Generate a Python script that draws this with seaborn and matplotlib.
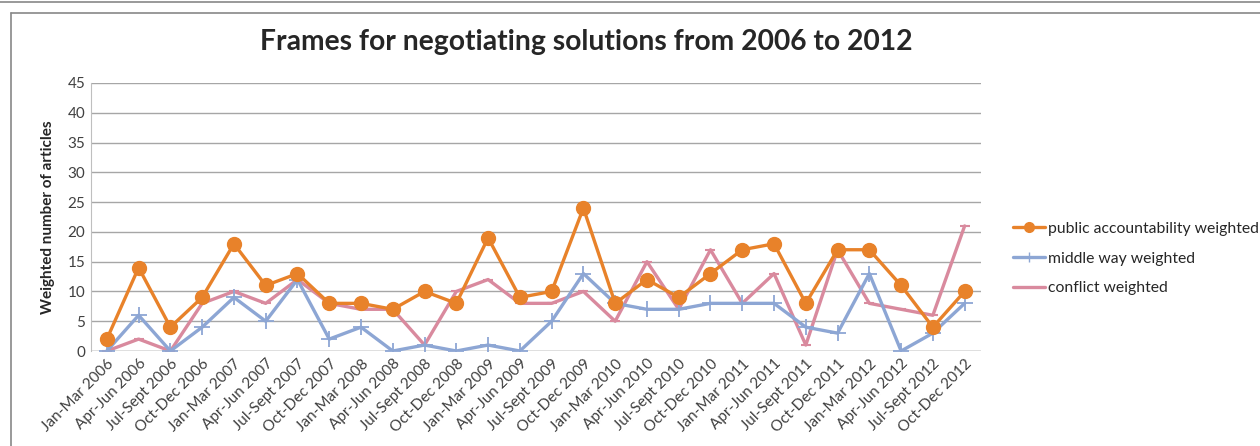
import numpy as np
import pandas as pd
import matplotlib
matplotlib.use("Agg")
import matplotlib.pyplot as plt
from matplotlib.lines import Line2D
import seaborn as sns

# data
periods = [
    "Jan-Mar 2006", "Apr-Jun 2006", "Jul-Sept 2006", "Oct-Dec 2006",
    "Jan-Mar 2007", "Apr-Jun 2007", "Jul-Sept 2007", "Oct-Dec 2007",
    "Jan-Mar 2008", "Apr-Jun 2008", "Jul-Sept 2008", "Oct-Dec 2008",
    "Jan-Mar 2009", "Apr-Jun 2009", "Jul-Sept 2009", "Oct-Dec 2009",
    "Jan-Mar 2010", "Apr-Jun 2010", "Jul-Sept 2010", "Oct-Dec 2010",
    "Jan-Mar 2011", "Apr-Jun 2011", "Jul-Sept 2011", "Oct-Dec 2011",
    "Jan-Mar 2012", "Apr-Jun 2012", "Jul-Sept 2012", "Oct-Dec 2012",
]
public_accountability = [2, 14, 4, 9, 18, 11, 13, 8, 8, 7, 10, 8, 19, 9,
                         10, 24, 8, 12, 9, 13, 17, 18, 8, 17, 17, 11, 4, 10]
middle_way = [0, 6, 0, 4, 9, 5, 12, 2, 4, 0, 1, 0, 1, 0,
              5, 13, 8, 7, 7, 8, 8, 8, 4, 3, 13, 0, 3, 8]
conflict = [0, 2, 0, 8, 10, 8, 12, 8, 7, 7, 1, 10, 12, 8,
            8, 10, 5, 15, 7, 17, 8, 13, 1, 17, 8, 7, 6, 21]

series_names = ["public accountability weighted", "middle way weighted", "conflict weighted"]
colors = ["#E8822A", "#8DA6D4", "#D98A9E"]
y_ticks = list(range(0, 50, 5))

sns.set_style("white")
plt.rcParams["font.family"] = ["Lato", "DejaVu Sans"]

n = len(periods)
df = pd.DataFrame({
    "pos": list(range(n)) * 3,
    "value": public_accountability + middle_way + conflict,
    "series": [series_names[0]] * n + [series_names[1]] * n + [series_names[2]] * n,
})

fig = plt.figure(figsize=(12.6, 4.46), dpi=100)
ax = fig.add_axes([0.0722, 0.213, 0.706, 0.601])

# draw conflict and middle way first, public accountability on top
for name, col, mk, ms, mew in [
    (series_names[2], colors[2], "_", 7, 1.5),
    (series_names[1], colors[1], "+", 11, 1.3),
    (series_names[0], colors[0], "o", 10, 1),
]:
    sub = df[df["series"] == name]
    sns.lineplot(data=sub, x="pos", y="value", ax=ax, color=col, linewidth=2.4,
                 marker=mk, markersize=ms, markeredgewidth=mew,
                 markeredgecolor=col, sort=False, legend=False)

ax.set_xlim(-0.5, n - 0.5)
ax.set_ylim(0, 45)
ax.set_yticks(y_ticks)
ax.set_yticklabels([str(t) for t in y_ticks], fontsize=11, color="#404040")
ax.set_xticks(range(n))
ax.set_xticklabels(periods, rotation=45, ha="right", rotation_mode="anchor",
                   fontsize=11, color="#404040")
ax.tick_params(axis="both", length=0, pad=4)
ax.yaxis.grid(True, color="#A6A6A6", linewidth=1)
ax.set_axisbelow(True)
for side in ["top", "right", "bottom"]:
    ax.spines[side].set_visible(False)
ax.spines["left"].set_color("#BFBFBF")
ax.axhline(0, color="#A6A6A6", linewidth=1, zorder=1)
ax.set_xlabel("")
ax.set_ylabel("Weighted number of articles", fontsize=11, fontweight="bold", labelpad=9)

fig.text(0.465, 0.905, "Frames for negotiating solutions from 2006 to 2012",
         ha="center", va="center", fontsize=20.3, fontweight="bold")

handles = [
    Line2D([], [], color=colors[0], linewidth=2.4, marker="o", markersize=7),
    Line2D([], [], color=colors[1], linewidth=2.4, marker="+", markersize=7),
    Line2D([], [], color=colors[2], linewidth=2.4),
]
fig.legend(handles, series_names, loc="center left", bbox_to_anchor=(0.793, 0.42),
           frameon=False, fontsize=11.3, handlelength=2.0, handletextpad=0.2,
           labelspacing=1.0, labelcolor="#262626")

# outer frames like the screenshot
fig.add_artist(Line2D([0, 1], [0.995, 0.995], color="#888888", linewidth=1.2, transform=fig.transFigure))
fig.add_artist(Line2D([0.0085, 1], [0.97, 0.97], color="#888888", linewidth=1.2, transform=fig.transFigure))
fig.add_artist(Line2D([0.0085, 0.0085], [0, 0.97], color="#888888", linewidth=1.2, transform=fig.transFigure))

fig.savefig("out.png", dpi=100)
